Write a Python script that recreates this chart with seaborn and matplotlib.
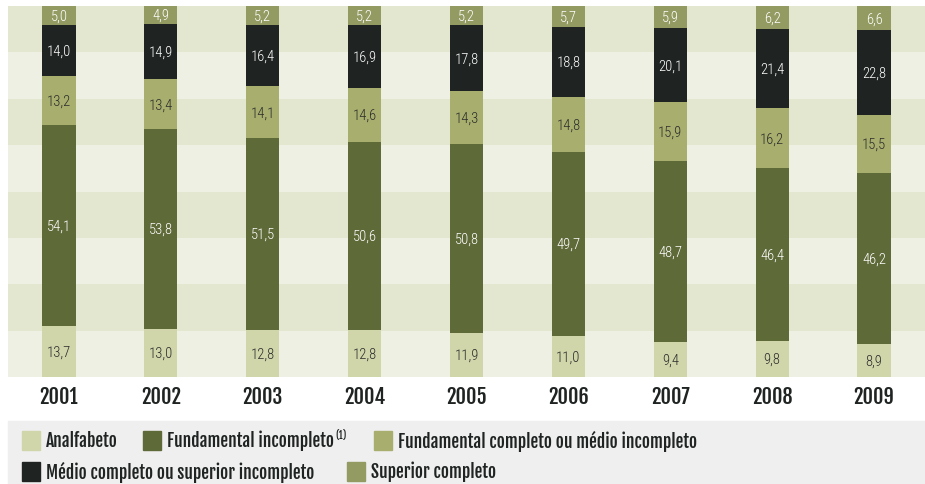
import pandas as pd
import seaborn as sns
import matplotlib.pyplot as plt
from matplotlib.patches import Rectangle

years = ["2001", "2002", "2003", "2004", "2005", "2006", "2007", "2008", "2009"]
analfabeto = [13.7, 13.0, 12.8, 12.8, 11.9, 11.0, 9.4, 9.8, 8.9]
fund_incompleto = [54.1, 53.8, 51.5, 50.6, 50.8, 49.7, 48.7, 46.4, 46.2]
fund_completo = [13.2, 13.4, 14.1, 14.6, 14.3, 14.8, 15.9, 16.2, 15.5]
medio_completo = [14.0, 14.9, 16.4, 16.9, 17.8, 18.8, 20.1, 21.4, 22.8]
superior = [5.0, 4.9, 5.2, 5.2, 5.2, 5.7, 5.9, 6.2, 6.6]

labels = ["Analfabeto", "Fundamental incompleto", "Fundamental completo ou médio incompleto",
          "Médio completo ou superior incompleto", "Superior completo"]
colors = ["#d0d6aa", "#5f6a39", "#a8af6e", "#1f2422", "#939b62"]
text_colors = ["#2b2b2b", "white", "#2b2b2b", "white", "white"]

sns.set_style("white")
head_font = ["Fjalla One", "Oswald", "Roboto Condensed", "DejaVu Sans"]
value_font = ["Roboto Condensed", "DejaVu Sans"]
plt.rcParams["font.family"] = head_font

df = pd.DataFrame({"ano": years, labels[0]: analfabeto, labels[1]: fund_incompleto,
                   labels[2]: fund_completo, labels[3]: medio_completo, labels[4]: superior})
cum = df[labels].cumsum(axis=1)

W, H = 925, 485
fig = plt.figure(figsize=(W / 100, H / 100), dpi=100)
ax = fig.add_axes([8 / W, (H - 378) / H, 917 / W, 371 / H])

# striped background
for i in range(8):
    ax.axhspan(i * 12.5, (i + 1) * 12.5, color="#eef0e3" if i % 2 == 0 else "#e3e7cf", zorder=0, lw=0)

# stacked bars: draw cumulative totals from the top layer down
for lab, c in reversed(list(zip(labels, colors))):
    sns.barplot(x=df["ano"], y=cum[lab], color=c, saturation=1, width=0.325,
                linewidth=0, ax=ax, zorder=2)

for j, lab in enumerate(labels):
    for i in range(len(years)):
        v = df[lab][i]
        mid = cum[lab][i] - v / 2
        ax.text(i, mid, f"{v:.1f}".replace(".", ","), ha="center", va="center",
                color=text_colors[j], fontsize=10.5, fontweight="light",
                family=value_font, zorder=3)

ax.set_xlim(-0.5, 8.5)
ax.set_ylim(0, 100)
ax.set_xlabel("")
ax.set_ylabel("")
ax.set_yticks([])
ax.tick_params(axis="x", length=0, pad=6)
for t in ax.get_xticklabels():
    t.set_fontweight("bold")
    t.set_fontsize(14.5)
    t.set_color("#1f2422")
sns.despine(ax=ax, left=True, bottom=True)

# legend box
fig.add_artist(Rectangle((8 / W, 0), 917 / W, 63 / H, transform=fig.transFigure,
                         color="#efefef", zorder=0))
rows = [[(0, 22), (1, 143), (2, 374)], [(3, 22), (4, 347)]]
fig.canvas.draw()
for yc, row in zip([441, 472], rows):
    prev_end = 0
    for k, mx in row:
        mx = max(mx, prev_end + 20)
        fig.add_artist(Rectangle((mx / W, (H - yc - 9.5) / H), 18 / W, 19 / H,
                                 transform=fig.transFigure, color=colors[k], zorder=1))
        t = fig.text((mx + 24) / W, (H - yc) / H, labels[k], ha="left", va="center",
                     fontsize=12.6, fontweight="bold", color="#1f2422")
        bb = t.get_window_extent(fig.canvas.get_renderer())
        prev_end = bb.x1
        if k == 1:
            s = fig.text((bb.x1 + 1) / W, (H - yc + 5) / H, "(1)", ha="left", va="center",
                         fontsize=7, fontweight="bold", color="#1f2422")
            prev_end = s.get_window_extent(fig.canvas.get_renderer()).x1

fig.savefig("out.png", dpi=100)
